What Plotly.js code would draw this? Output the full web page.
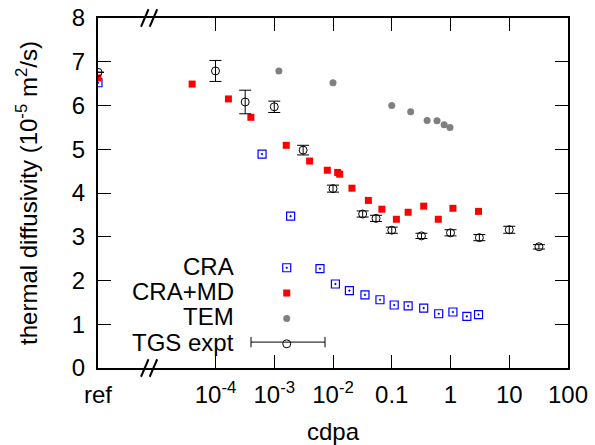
<!DOCTYPE html>
<html>
<head>
<meta charset="utf-8">
<script src="https://cdn.plot.ly/plotly-3.0.1.min.js"></script>
<style>html,body{margin:0;padding:0;background:#fff;}#chart{width:595px;height:445px;}</style>
</head>
<body>
<div id="chart"></div>
<script>
// "ref" (unirradiated reference) is placed at this position on the log axis
const REF_X = 1e-6;

// x tick labels
const tickVals = [1e-6, 1e-4, 1e-3, 1e-2, 0.1, 1, 10, 100];
const tickText = ['ref', '10<sup>-4</sup>', '10<sup>-3</sup>', '10<sup>-2</sup>', '0.1', '1', '10', '100'];

// series names (legend labels)
const seriesNames = ['CRA', 'CRA+MD', 'TEM', 'TGS expt'];

// CRA
const craX = [REF_X, 6.2e-4, 1.9e-3, 6e-3, 1.1e-2, 1.9e-2, 3.5e-2, 6.3e-2, 0.11, 0.19, 0.35, 0.63, 1.1, 1.9, 3.0];
const craY = [6.52, 4.89, 3.47, 2.27, 1.92, 1.77, 1.67, 1.56, 1.44, 1.42, 1.37, 1.24, 1.28, 1.18, 1.22];

// CRA+MD
const craMdX = [REF_X, 4e-5, 1.66e-4, 4e-4, 1.6e-3, 4e-3, 8e-3, 1.2e-2, 1.3e-2, 2.1e-2, 4e-2, 6.8e-2, 0.12, 0.19, 0.35, 0.62, 1.1, 3.0];
const craMdY = [6.63, 6.49, 6.15, 5.73, 5.09, 4.73, 4.52, 4.47, 4.43, 4.11, 3.83, 3.63, 3.40, 3.56, 3.70, 3.40, 3.65, 3.58];

// TEM
const temX = [1.2e-3, 1e-2, 0.1, 0.21, 0.4, 0.59, 0.78, 0.98];
const temY = [6.79, 6.52, 6.00, 5.86, 5.66, 5.65, 5.56, 5.50];

// TGS expt
const tgsX = [REF_X, 1e-4, 3.2e-4, 1e-3, 3.1e-3, 1e-2, 3.2e-2, 5.4e-2, 0.1, 0.32, 1, 3.1, 10, 32];
const tgsY = [6.76, 6.79, 6.08, 5.97, 4.98, 4.10, 3.52, 3.42, 3.15, 3.02, 3.09, 2.98, 3.16, 2.77];
const tgsErr = [null, 0.24, 0.27, 0.13, 0.11, 0.08, 0.07, 0.07, 0.07, 0.06, 0.07, 0.07, 0.08, 0.05];

const FONT = 'Liberation Sans, Arial, Helvetica, sans-serif';

// legend symbols come from Plotly's legend (blank names); labels are right-aligned annotations to their left, gnuplot style
const traces = [
  {x: craX, y: craY, type: 'scatter', mode: 'markers', name: '',
   marker: {symbol: 'square-open-dot', size: 8, color: '#0000ff', line: {width: 1.2, color: '#0000ff'}}},
  {x: craMdX, y: craMdY, type: 'scatter', mode: 'markers', name: '',
   marker: {symbol: 'square', size: 7, color: '#ff0000'}},
  {x: temX, y: temY, type: 'scatter', mode: 'markers', name: '',
   marker: {symbol: 'circle', size: 7, color: '#808080'}},
  {x: tgsX, y: tgsY, type: 'scatter', mode: 'markers', name: '',
   marker: {symbol: 'circle-open', size: 8, color: '#000000', line: {width: 1}},
   error_y: {type: 'data', array: tgsErr, visible: true, color: '#000000', thickness: 1, width: 6}}
];

function slash(x0, yc) {
  return {type: 'line', xref: 'paper', yref: 'paper', x0: x0, x1: x0 + 0.016, y0: yc - 0.025, y1: yc + 0.025,
          line: {color: '#000', width: 2}};
}

// legend key layout (paper coords)
const keyTextX = 0.2936;
const keyRowsY = [0.291, 0.219, 0.146, 0.074];

const annotations = seriesNames.map((n, i) => ({
  text: n, xref: 'paper', yref: 'paper', x: keyTextX, y: keyRowsY[i],
  xanchor: 'right', yanchor: 'middle', showarrow: false,
  font: {family: FONT, size: 24, color: '#000'}
}));

// TGS key: horizontal bar with end caps
const kx0 = (251 - 98) / 470, kx1 = (325 - 98) / 470, ky = keyRowsY[3], cap = 0.015;
const keyShapes = [
  {type: 'line', xref: 'paper', yref: 'paper', x0: kx0, x1: kx1, y0: ky, y1: ky, line: {color: '#000', width: 1}},
  {type: 'line', xref: 'paper', yref: 'paper', x0: kx0, x1: kx0, y0: ky - cap, y1: ky + cap, line: {color: '#000', width: 1}},
  {type: 'line', xref: 'paper', yref: 'paper', x0: kx1, x1: kx1, y0: ky - cap, y1: ky + cap, line: {color: '#000', width: 1}}
];

const layout = {
  width: 595, height: 445,
  margin: {l: 98, r: 27, t: 18, b: 77},
  paper_bgcolor: '#fff', plot_bgcolor: '#fff',
  font: {family: FONT, size: 24, color: '#000'},
  showlegend: true,
  legend: {x: 0.359, y: 0.337, xanchor: 'left', yanchor: 'top', bgcolor: 'rgba(0,0,0,0)',
           font: {family: FONT, size: 17.2, color: '#000'}, tracegroupgap: 0},
  annotations: annotations,
  xaxis: {type: 'log', range: [-6, 2], tickvals: tickVals, ticktext: tickText,
          ticks: 'inside', ticklen: 13, tickwidth: 1, tickcolor: '#000',
          showline: true, linewidth: 2, linecolor: '#000', mirror: 'ticks',
          showgrid: false, zeroline: false, ticklabelstandoff: 4,
          tickfont: {family: FONT, size: 24},
          title: {text: 'cdpa', font: {family: FONT, size: 24}, standoff: 16}},
  yaxis: {range: [0, 8], dtick: 1, tick0: 0,
          ticks: 'inside', ticklen: 13, tickwidth: 1, tickcolor: '#000',
          showline: true, linewidth: 2, linecolor: '#000', mirror: 'ticks',
          showgrid: false, zeroline: false, ticklabelstandoff: 6,
          tickfont: {family: FONT, size: 24},
          title: {text: 'thermal diffusivity (10<sup>-5</sup> m<sup>2</sup>/s)', font: {family: FONT, size: 24}, standoff: 27}},
  shapes: [slash(0.0915, 1), slash(0.110, 1), slash(0.0915, 0), slash(0.110, 0)].concat(keyShapes)
};

Plotly.newPlot('chart', traces, layout, {displayModeBar: false, staticPlot: true});
</script>
</body>
</html>
